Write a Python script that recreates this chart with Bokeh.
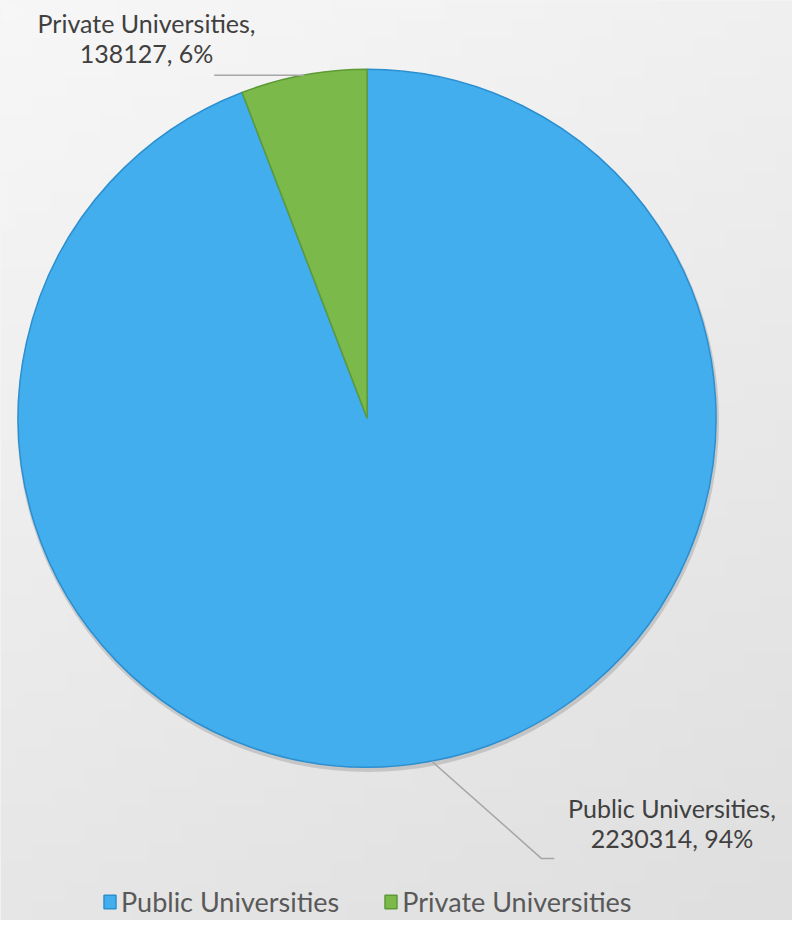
import math
import numpy as np
from bokeh.plotting import figure
from bokeh.models import Range1d, Legend, LegendItem
from bokeh.core.properties import value
from bokeh.embed import file_html
from bokeh.resources import INLINE

# ---- data ----
categories = ["Public Universities", "Private Universities"]
counts = [2230314, 138127]
colors = ["#43aeee", "#7bb94a"]
edge_colors = ["#2b8fd0", "#5d9a36"]

total = sum(counts)
fracs = [c / total for c in counts]

# ---- layout: data units = reference pixels (808 x 936), y upward ----
W, H = 792, 920
RW, RH = 808, 936
def Y(y):  # reference y (downward) -> data y (upward)
    return RH - y

p = figure(width=W, height=H, output_backend="svg", toolbar_location=None,
           x_range=Range1d(0, RW), y_range=Range1d(0, RH), min_border=0)
p.axis.visible = False
p.grid.visible = False
p.outline_line_color = None

# background gradient (light top-left -> slightly darker bottom-right)
gh, gw = 48, 48
rows = np.linspace(1.0, 0.0, gh)[:, None]   # row 0 is at bottom -> darker
cols = np.linspace(0.0, 1.0, gw)[None, :]
tt = 0.7 * rows + 0.3 * cols
gv = (247 - tt * 24).astype(np.uint32)
img = ((255 << 24) | (gv << 16) | (gv << 8) | gv).astype(np.uint32)
p.image_rgba(image=[img], x=0, y=0, dw=RW, dh=RH)
p.border_fill_color = "#ebebeb"
p.background_fill_color = "#ebebeb"

cx, cy, R = 374, Y(425), 356

# wedges, clockwise from 12 o'clock
starts, ends = [], []
acc = 0.0
for f in fracs:
    a0 = math.pi / 2 - acc * 2 * math.pi
    acc += f
    a1 = math.pi / 2 - acc * 2 * math.pi
    starts.append(a0)
    ends.append(a1)

# soft shadow
p.circle(x=[cx + 1], y=[cy - 3], radius=R + 2, fill_color="#8a8a8a", fill_alpha=0.35, line_color=None)

renderers = []
for i in range(len(counts)):
    r = p.wedge(x=[cx], y=[cy], radius=R, start_angle=[starts[i]], end_angle=[ends[i]],
                direction="clock", fill_color=colors[i], line_color=edge_colors[i], line_width=1.5)
    renderers.append(r)

# leader lines
p.line(x=[218, 310], y=[Y(76), Y(76)], line_color="#a6a6a6", line_width=1.5)
p.line(x=[440, 552, 565], y=[Y(774), Y(873), Y(873)], line_color="#a6a6a6", line_width=1.5)

# data labels
pcts = [round(f * 100) for f in fracs]
lab_x = [685, 149]
lab_y1 = [Y(822), Y(23)]
lab_y2 = [Y(852), Y(53)]
for i in range(len(counts)):
    p.text(x=[lab_x[i]], y=[lab_y1[i]], text=[categories[i] + ","], text_align="center",
           text_baseline="middle", text_font=value("Lato"), text_font_size="25px", text_color="#404040")
    p.text(x=[lab_x[i]], y=[lab_y2[i]], text=[f"{counts[i]}, {pcts[i]}%"], text_align="center",
           text_baseline="middle", text_font=value("Lato"), text_font_size="25px", text_color="#404040")

legend = Legend(items=[LegendItem(label=categories[i], renderers=[renderers[i]]) for i in range(len(counts))],
                orientation="horizontal", location=(102, 2),
                label_text_font="Lato", label_text_font_size="27px", label_text_color="#595959",
                label_height=30, glyph_width=15, glyph_height=17, spacing=44, label_standoff=4,
                background_fill_alpha=0, border_line_color=None, padding=0, margin=0)
p.add_layout(legend, "center")

open("out.html", "w").write(file_html(p, INLINE))
